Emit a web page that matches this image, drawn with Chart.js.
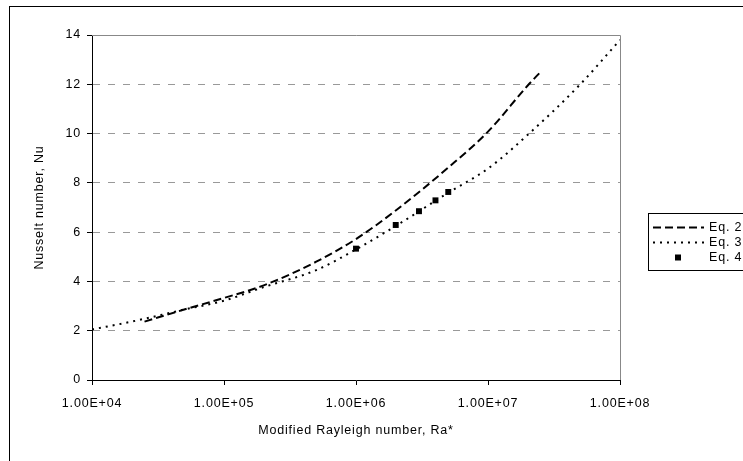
<!DOCTYPE html>
<html>
<head>
<meta charset="utf-8">
<script src="https://cdn.jsdelivr.net/npm/chart.js@4"></script>
<style>
    body { margin: 0; background: #fff; }
    canvas { display: block; }
</style>
</head>
<body>
<canvas id="chartNusselt" width="743" height="461"></canvas>
<script>
// Nu vs Ra* (log x)

// Eq. 2 (tracejado)
const eq2Ra = [2.5e4, 5e4, 1e5, 2e5, 5e5, 1e6, 2e6, 5e6, 1e7, 2e7, 2.5e7];
const eq2Nu = [2.37, 2.86, 3.33, 3.84, 4.8, 5.72, 6.88, 8.62, 10.08, 11.95, 12.5];

// Eq. 3 (pontilhado)
const eq3Ra = [1e4, 2e4, 5e4, 1e5, 2e5, 5e5, 1e6, 2e6, 5e6, 1e7, 2e7, 5e7, 1e8];
const eq3Nu = [2.05, 2.37, 2.86, 3.22, 3.77, 4.46, 5.3, 6.25, 7.6, 8.58, 9.95, 12.0, 13.8];

// Eq. 4 (pontos)
const eq4Ra = [1e6, 2e6, 3e6, 4e6, 5e6];
const eq4Nu = [5.33, 6.29, 6.85, 7.29, 7.63];

const seriesNames = ['Eq. 2', 'Eq. 3', 'Eq. 4'];
const xTickValues = [1e4, 1e5, 1e6, 1e7, 1e8];
const xTickLabels = ['1.00E+04', '1.00E+05', '1.00E+06', '1.00E+07', '1.00E+08'];

const toPoints = (xs, ys) => xs.map((x, i) => ({ x: x, y: ys[i] }));

Chart.defaults.font.family = '"Liberation Sans", Arial, sans-serif';
Chart.defaults.font.size = 12.5;
Chart.defaults.color = '#000';

// moldura, borda do gráfico e legenda no estilo Excel
const excelFrame = {
    id: 'excelFrame',
    beforeDraw(chart) {
        chart.ctx.letterSpacing = '0.8px';
    },
    afterDraw(chart) {
        const ctx = chart.ctx;
        const a = chart.chartArea;
        ctx.save();
        ctx.setLineDash([]);

        // moldura externa
        ctx.strokeStyle = '#000';
        ctx.lineWidth = 1;
        ctx.strokeRect(9.5, 6.5, 900, 900);

        // topo e lado direito da área do gráfico
        ctx.strokeStyle = '#888';
        ctx.beginPath();
        ctx.moveTo(a.left, a.top + 0.5);
        ctx.lineTo(a.right + 0.5, a.top + 0.5);
        ctx.lineTo(a.right + 0.5, a.bottom);
        ctx.stroke();

        // legenda
        const lx = 648.5, ly = 213.5;
        ctx.strokeStyle = '#000';
        ctx.strokeRect(lx, ly, 200, 57);

        const rows = [227, 242, 257];
        const styles = chart.data.datasets;
        ctx.font = '12.5px "Liberation Sans", Arial, sans-serif';
        ctx.fillStyle = '#000';
        ctx.textBaseline = 'middle';
        ctx.textAlign = 'left';
        rows.forEach((y, i) => {
            const ds = styles[i];
            if (ds.showLine) {
                ctx.lineWidth = ds.borderWidth;
                ctx.setLineDash(ds.borderDash);
                ctx.beginPath();
                ctx.moveTo(653, y + 0.5);
                ctx.lineTo(704, y + 0.5);
                ctx.stroke();
                ctx.setLineDash([]);
            } else {
                ctx.fillRect(675, y - 2.5, 6, 6);
            }
            ctx.fillText(seriesNames[i], 709, y + 1);
        });
        ctx.restore();
    }
};

const ctx = document.getElementById('chartNusselt').getContext('2d');
new Chart(ctx, {
    type: 'scatter',
    data: {
        datasets: [
            {
                label: seriesNames[0],
                data: toPoints(eq2Ra, eq2Nu),
                showLine: true,
                borderColor: '#000',
                borderWidth: 2,
                borderDash: [8, 4],
                pointRadius: 0,
                cubicInterpolationMode: 'monotone'
            },
            {
                label: seriesNames[1],
                data: toPoints(eq3Ra, eq3Nu),
                showLine: true,
                borderColor: '#000',
                borderWidth: 2,
                borderDash: [2, 5],
                pointRadius: 0,
                cubicInterpolationMode: 'monotone'
            },
            {
                label: seriesNames[2],
                data: toPoints(eq4Ra, eq4Nu),
                showLine: false,
                pointStyle: 'rect',
                pointRadius: 4.2,
                backgroundColor: '#000',
                borderColor: '#000',
                borderWidth: 0
            }
        ]
    },
    options: {
        responsive: false,
        animation: false,
        layout: { padding: { left: 0, top: 35, right: 123, bottom: 0 } },
        plugins: {
            legend: { display: false },
            tooltip: { enabled: false }
        },
        scales: {
            x: {
                type: 'logarithmic',
                min: 1e4,
                max: 1e8,
                afterBuildTicks: (scale) => {
                    scale.ticks = xTickValues.map(v => ({ value: v }));
                },
                afterFit: (scale) => { scale.height = 81; },
                ticks: {
                    padding: 11,
                    maxRotation: 0,
                    autoSkip: false,
                    callback: (v) => xTickLabels[xTickValues.indexOf(v)]
                },
                grid: {
                    drawOnChartArea: false,
                    drawTicks: true,
                    tickLength: 5,
                    tickColor: '#000'
                },
                border: { color: '#000', width: 1 },
                title: {
                    display: true,
                    text: 'Modified Rayleigh number, Ra*',
                    padding: { top: 0, bottom: 23 }
                }
            },
            y: {
                min: 0,
                max: 14,
                afterFit: (scale) => { scale.width = 92; },
                ticks: { stepSize: 2, padding: 6 },
                grid: {
                    color: (c) => (c.tick && (c.tick.value === 0 || c.tick.value === 14)) ? 'rgba(0,0,0,0)' : '#999',
                    lineWidth: 1,
                    tickLength: 5,
                    tickColor: '#000'
                },
                border: { color: '#000', width: 1, dash: [7, 8] },
                title: {
                    display: true,
                    text: 'Nusselt number, Nu',
                    padding: { top: 32, bottom: 0 }
                }
            }
        }
    },
    plugins: [excelFrame]
});
</script>
</body>
</html>
